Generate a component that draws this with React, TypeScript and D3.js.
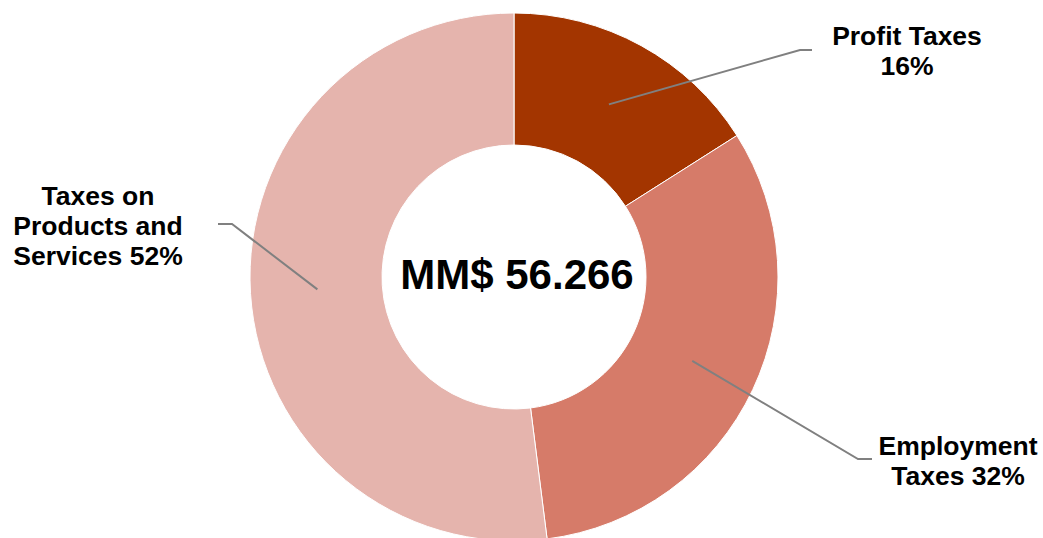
import React, { useEffect, useRef } from 'react';
import * as d3 from 'd3';

// slice data, clockwise from 12 o'clock
const categories = ['Profit Taxes', 'Employment Taxes', 'Taxes on Products and Services'];
const shares = [16, 32, 52];
const sliceColors = ['#a33500', '#d67b69', '#e5b4ad'];
const labelLines = [
  ['Profit Taxes', '16%'],
  ['Employment', 'Taxes 32%'],
  ['Taxes on', 'Products and', 'Services 52%'],
];
const totalLabel = 'MM$ 56.266';

// leader line elbows and label anchors (layout only)
const leaderLayout = [
  { elbow: [800, 50], end: [812, 50], tx: 907, ty: 45 },
  { elbow: [858, 459], end: [872, 459], tx: 958, ty: 455 },
  { elbow: [232, 224], end: [218, 224], tx: 98, ty: 205 },
];

const W = 1043, H = 538;
const cx = 514, cy = 277;
const outerR = 264, innerR = 132;

export default function App() {
  const ref = useRef<SVGSVGElement>(null);

  useEffect(() => {
    const svg = d3.select(ref.current);
    svg.selectAll('*').remove();

    const data = categories.map((c, i) => ({ name: c, value: shares[i], i }));
    const pie = d3.pie<any>().value((d) => d.value).sort(null);
    const arcs = pie(data);
    const arc = d3.arc<any>().innerRadius(innerR).outerRadius(outerR);
    const midArc = d3.arc<any>().innerRadius(197).outerRadius(197);

    const g = svg.append('g').attr('transform', `translate(${cx},${cy})`);

    g.selectAll('path.slice')
      .data(arcs)
      .enter()
      .append('path')
      .attr('class', 'slice')
      .attr('d', arc)
      .attr('fill', (d) => sliceColors[d.data.i])
      .attr('stroke', '#fff')
      .attr('stroke-width', 1);

    // leader lines + labels
    arcs.forEach((a, i) => {
      const [sx, sy] = midArc.centroid(a);
      const lay = leaderLayout[i];
      const pts: [number, number][] = [
        [sx + cx, sy + cy],
        [lay.elbow[0], lay.elbow[1]],
        [lay.end[0], lay.end[1]],
      ];
      svg.append('path')
        .attr('d', d3.line()(pts))
        .attr('fill', 'none')
        .attr('stroke', '#808080')
        .attr('stroke-width', 2);

      const t = svg.append('text')
        .attr('text-anchor', 'middle')
        .attr('font-family', 'Liberation Sans, Arial, sans-serif')
        .attr('font-weight', 'bold')
        .attr('font-size', 26.5)
        .attr('fill', '#000');
      labelLines[i].forEach((line, k) => {
        t.append('tspan')
          .attr('x', lay.tx)
          .attr('y', lay.ty + k * 30)
          .text(line);
      });
    });

    svg.append('text')
      .attr('x', cx + 3)
      .attr('y', 289)
      .attr('text-anchor', 'middle')
      .attr('font-family', 'Liberation Sans, Arial, sans-serif')
      .attr('font-weight', 'bold')
      .attr('font-size', 42)
      .attr('fill', '#000')
      .text(totalLabel);
  }, []);

  return (
    <svg
      ref={ref}
      width={W}
      height={H}
      style={{ position: 'absolute', left: 0, top: 0, background: '#fff' }}
    />
  );
}
